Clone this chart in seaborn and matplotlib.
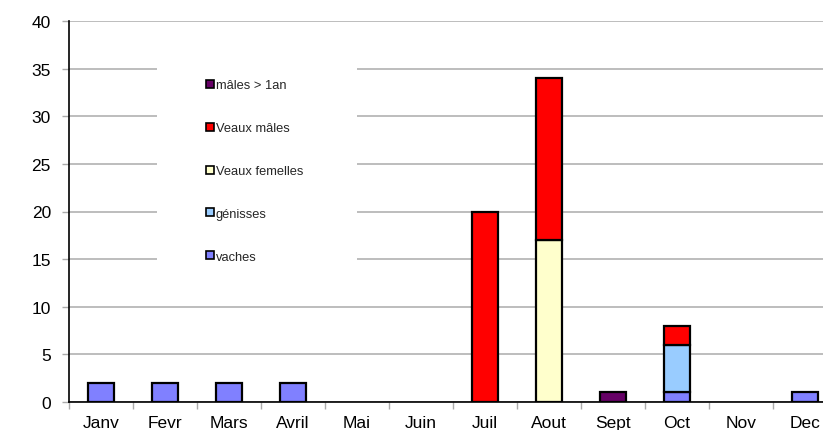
import matplotlib
matplotlib.use("Agg")
import matplotlib.pyplot as plt
import seaborn as sns
import pandas as pd
import numpy as np
from matplotlib.patches import Rectangle
from matplotlib.lines import Line2D

months = ["Janv", "Fevr", "Mars", "Avril", "Mai", "Juin", "Juil", "Aout", "Sept", "Oct", "Nov", "Dec"]
vaches = [2, 2, 2, 2, 0, 0, 0, 0, 0, 1, 0, 1]
genisses = [0, 0, 0, 0, 0, 0, 0, 0, 0, 5, 0, 0]
veaux_femelles = [0, 0, 0, 0, 0, 0, 0, 17, 0, 0, 0, 0]
veaux_males = [0, 0, 0, 0, 0, 0, 20, 17, 0, 2, 0, 0]
males_1an = [0, 0, 0, 0, 0, 0, 0, 0, 1, 0, 0, 0]

series_names = ["vaches", "génisses", "Veaux femelles", "Veaux mâles", "mâles > 1an"]
series_vals = [vaches, genisses, veaux_femelles, veaux_males, males_1an]
colors = ["#8080FF", "#99CCFF", "#FFFFCC", "#FF0000", "#660066"]

sns.set_theme(style="white")
plt.rcParams["font.family"] = ["Liberation Sans", "DejaVu Sans"]

fig = plt.figure(figsize=(8.23, 4.31), dpi=100)
ax = fig.add_axes([69 / 823, 28 / 431, 768 / 823, 381 / 431])

bottom = np.zeros(len(months))
for name, vals, col in zip(series_names, series_vals, colors):
    vals = np.array(vals, dtype=float)
    df = pd.DataFrame({"mois": months, "n": vals, "base": bottom})
    df = df[df["n"] > 0]
    sns.barplot(data=df, x="mois", y="n", order=months, ax=ax, color=col,
                width=0.42, bottom=df["base"].values, edgecolor="black",
                linewidth=1.6, saturation=1, zorder=3)
    bottom = bottom + vals

ax.set_ylim(0, 40)
ax.set_xlim(-0.5, len(months) - 0.5)
ax.set_yticks(np.arange(0, 41, 5))
ax.yaxis.grid(True, color="#ABABAB", linewidth=1.1, zorder=0)
ax.set_axisbelow(True)
ax.set_xlabel("")
ax.set_ylabel("")
for s in ["top", "right"]:
    ax.spines[s].set_visible(False)
for s in ["left", "bottom"]:
    ax.spines[s].set_color("black")
    ax.spines[s].set_linewidth(1.2)
    ax.spines[s].set_zorder(4)

ax.set_xticks(np.arange(-0.5, len(months), 1), minor=True)
ax.tick_params(axis="x", which="major", length=0, pad=9.5, labelsize=12.5, colors="black")
ax.tick_params(axis="x", which="minor", length=5, width=1, color="#ABABAB", direction="out", bottom=True)
ax.tick_params(axis="y", which="major", length=5, width=1, color="#ABABAB", direction="out", left=True,
               labelsize=12.5, colors="black", pad=8)

# white legend background
bg = Rectangle((157 / 823, 1 - 274 / 431), 200 / 823, 212 / 431, transform=fig.transFigure,
               facecolor="white", edgecolor="none", zorder=2)
ax.add_artist(bg)

handles = [Line2D([], [], marker="s", linestyle="none", markersize=5.5,
                  markerfacecolor=c, markeredgecolor="black", markeredgewidth=1.2)
           for c in colors[::-1]]
leg = fig.legend(handles, series_names[::-1], loc="upper left",
                 bbox_to_anchor=(199 / 823, 1 - 74 / 431), frameon=False,
                 fontsize=9.3, labelspacing=2.38, handlelength=0.7,
                 handletextpad=0.1, borderpad=0)

fig.savefig("out.png", dpi=100)
